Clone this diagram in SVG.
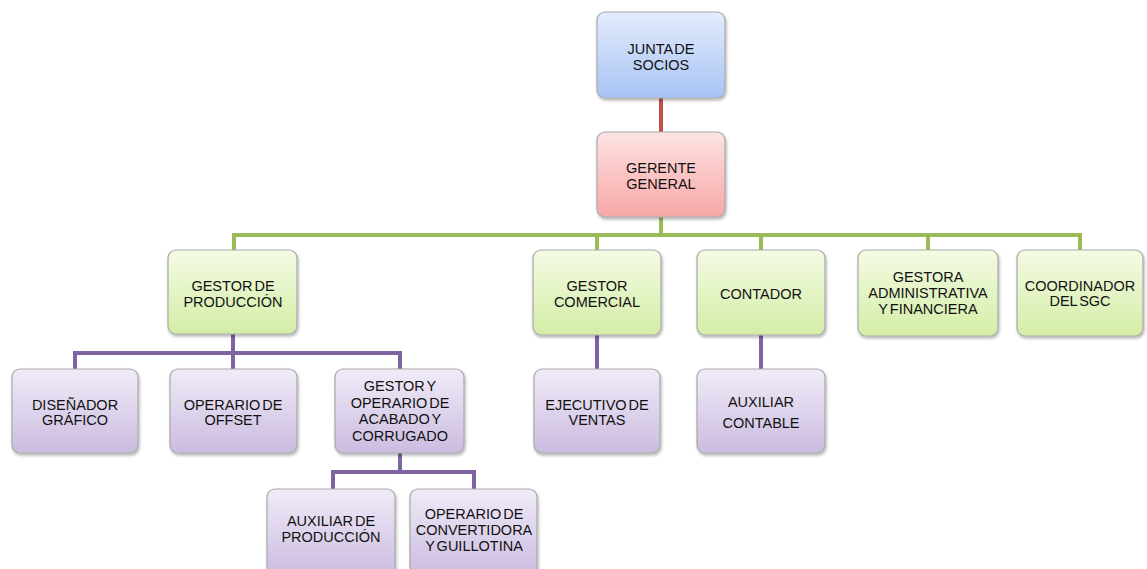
<svg xmlns="http://www.w3.org/2000/svg" width="1147" height="569" viewBox="0 0 1147 569">
  <defs>
    <linearGradient id="gBlue" x1="0" y1="0" x2="0" y2="1">
      <stop offset="0" stop-color="#e3ecfc"/>
      <stop offset="1" stop-color="#a8c3f4"/>
    </linearGradient>
    <linearGradient id="gRed" x1="0" y1="0" x2="0" y2="1">
      <stop offset="0" stop-color="#fde3e3"/>
      <stop offset="1" stop-color="#f8a7a6"/>
    </linearGradient>
    <linearGradient id="gGreen" x1="0" y1="0" x2="0" y2="1">
      <stop offset="0" stop-color="#f4fbe4"/>
      <stop offset="1" stop-color="#d4eda6"/>
    </linearGradient>
    <linearGradient id="gPurple" x1="0" y1="0" x2="0" y2="1">
      <stop offset="0" stop-color="#f1ebf8"/>
      <stop offset="1" stop-color="#cbbce0"/>
    </linearGradient>
    <filter id="shadow" x="-10%" y="-10%" width="125%" height="130%">
      <feDropShadow dx="1" dy="2" stdDeviation="1.5" flood-color="#000" flood-opacity="0.3"/>
    </filter>
  </defs>
  <style>
    .box { stroke: #a9a9a9; stroke-width: 1.2; filter: url(#shadow); }
    .blue { fill: url(#gBlue); }
    .red { fill: url(#gRed); }
    .green { fill: url(#gGreen); }
    .purple { fill: url(#gPurple); }
    .lbl { font-family: "Liberation Sans", Arial, sans-serif; font-size: 14.5px; fill: #111; text-anchor: middle; word-spacing: -2px; }
    .ln { fill: none; stroke-width: 4; stroke-linecap: butt; }
    .lr { stroke: #c0504d; }
    .lg { stroke: #9bbb59; }
    .lp { stroke: #8064a2; }
  </style>

  <g id="connectors">
    <path class="ln lr" d="M661 98 V132"/>
    <path class="ln lg" d="M661 217 V235 M234 235 H1081 M234 233 V250 M597 233 V250 M761 233 V250 M928 233 V250 M1080 233 V250"/>
    <path class="ln lp" d="M233 334 V353 M73 353 H402 M75 351 V369 M233 351 V369 M400 351 V369"/>
    <path class="ln lp" d="M597 335 V369 M761 335 V369"/>
    <path class="ln lp" d="M400 453 V472 M331 472 H476 M333 470 V489 M474 470 V489"/>
  </g>

  <g id="junta-de-socios">
    <rect class="box blue" x="597" y="12" width="128" height="86" rx="8"/>
    <text class="lbl" x="661" y="54">JUNTA DE</text>
    <text class="lbl" x="661" y="70">SOCIOS</text>
  </g>

  <g id="gerente-general">
    <rect class="box red" x="597" y="132" width="128" height="85" rx="8"/>
    <text class="lbl" x="661" y="173">GERENTE</text>
    <text class="lbl" x="661" y="189">GENERAL</text>
  </g>

  <g id="gestor-produccion">
    <rect class="box green" x="168" y="250" width="129" height="84" rx="8"/>
    <text class="lbl" x="233" y="291">GESTOR DE</text>
    <text class="lbl" x="233" y="307">PRODUCCIÓN</text>
  </g>

  <g id="gestor-comercial">
    <rect class="box green" x="533" y="250" width="128" height="85" rx="8"/>
    <text class="lbl" x="597" y="291">GESTOR</text>
    <text class="lbl" x="597" y="307">COMERCIAL</text>
  </g>

  <g id="contador">
    <rect class="box green" x="697" y="250" width="128" height="85" rx="8"/>
    <text class="lbl" x="761" y="299">CONTADOR</text>
  </g>

  <g id="gestora-administrativa">
    <rect class="box green" x="858" y="250" width="140" height="86" rx="8"/>
    <text class="lbl" x="928" y="282">GESTORA</text>
    <text class="lbl" x="928" y="298">ADMINISTRATIVA</text>
    <text class="lbl" x="928" y="314">Y FINANCIERA</text>
  </g>

  <g id="coordinador-sgc">
    <rect class="box green" x="1017" y="250" width="126" height="86" rx="8"/>
    <text class="lbl" x="1080" y="291">COORDINADOR</text>
    <text class="lbl" x="1080" y="306">DEL SGC</text>
  </g>

  <g id="disenador-grafico">
    <rect class="box purple" x="12" y="369" width="126" height="84" rx="8"/>
    <text class="lbl" x="75" y="410">DISEÑADOR</text>
    <text class="lbl" x="75" y="425">GRÁFICO</text>
  </g>

  <g id="operario-offset">
    <rect class="box purple" x="170" y="369" width="127" height="84" rx="8"/>
    <text class="lbl" x="233" y="410">OPERARIO DE</text>
    <text class="lbl" x="233" y="425">OFFSET</text>
  </g>

  <g id="gestor-acabado">
    <rect class="box purple" x="335" y="369" width="129" height="84" rx="8"/>
    <text class="lbl" x="400" y="391">GESTOR Y</text>
    <text class="lbl" x="400" y="408">OPERARIO DE</text>
    <text class="lbl" x="400" y="424">ACABADO Y</text>
    <text class="lbl" x="400" y="441">CORRUGADO</text>
  </g>

  <g id="ejecutivo-ventas">
    <rect class="box purple" x="534" y="369" width="126" height="84" rx="8"/>
    <text class="lbl" x="597" y="410">EJECUTIVO DE</text>
    <text class="lbl" x="597" y="425">VENTAS</text>
  </g>

  <g id="auxiliar-contable">
    <rect class="box purple" x="697" y="369" width="128" height="84" rx="8"/>
    <text class="lbl" x="761" y="407">AUXILIAR</text>
    <text class="lbl" x="761" y="428">CONTABLE</text>
  </g>

  <g id="auxiliar-produccion">
    <rect class="box purple" x="267" y="489" width="128" height="86" rx="8"/>
    <text class="lbl" x="331" y="526">AUXILIAR DE</text>
    <text class="lbl" x="331" y="542">PRODUCCIÓN</text>
  </g>

  <g id="operario-convertidora">
    <rect class="box purple" x="410" y="489" width="127" height="86" rx="8"/>
    <text class="lbl" x="474" y="519">OPERARIO DE</text>
    <text class="lbl" x="474" y="535">CONVERTIDORA</text>
    <text class="lbl" x="474" y="551">Y GUILLOTINA</text>
  </g>
</svg>
